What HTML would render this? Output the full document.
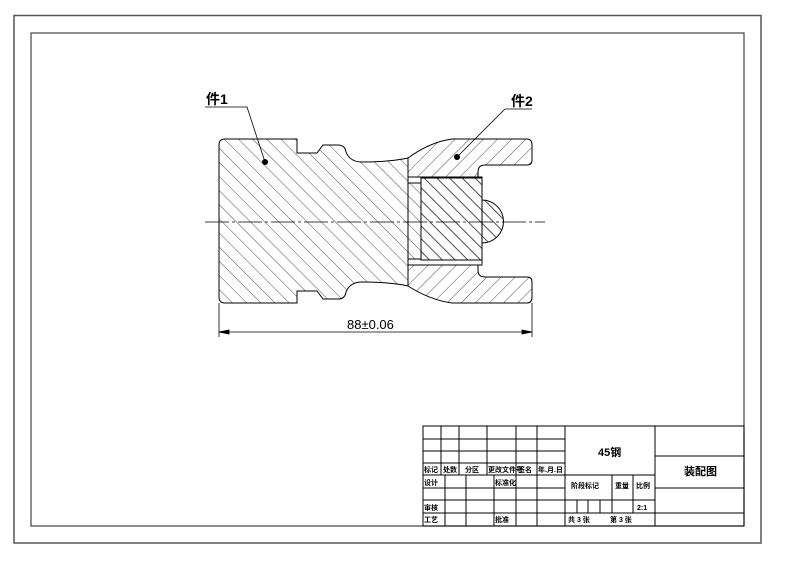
<!DOCTYPE html>
<html><head><meta charset="utf-8"><style>
html,body{margin:0;padding:0;background:#fff;}
svg{display:block}
text{font-family:"Liberation Sans","Noto Sans CJK SC",sans-serif;font-weight:bold;fill:#000}
</style></head><body>
<svg width="803" height="574" viewBox="0 0 803 574" xmlns="http://www.w3.org/2000/svg">
<defs>
<pattern id="hA" patternUnits="userSpaceOnUse" width="10" height="10" patternTransform="rotate(-45)">
<line x1="0" y1="0" x2="0" y2="10" stroke="#222" stroke-width="0.8"/></pattern>
<pattern id="hB" patternUnits="userSpaceOnUse" width="10" height="10" patternTransform="rotate(45)">
<line x1="0" y1="0" x2="0" y2="10" stroke="#222" stroke-width="0.8"/></pattern>
<pattern id="hC" patternUnits="userSpaceOnUse" width="9" height="9" patternTransform="rotate(-45)">
<line x1="3" y1="0" x2="3" y2="9" stroke="#222" stroke-width="0.8"/></pattern>
</defs>
<rect x="14" y="15.5" width="747" height="527.5" fill="none" stroke="#555" stroke-width="1.5"/>
<rect x="31" y="33" width="713" height="493" fill="none" stroke="#444" stroke-width="1.2"/>

<g stroke="#000" stroke-width="1">
<path d="M219,145 Q219,139 225,139 L297,139 L297,153 L317,153 L323,145 L338,145 Q345,145 346,152 Q350,162 362,162 Q390,162 408,158 L408,286 Q390,282 362,282 Q350,282 346,292 Q345,299 338,299 L323,299 L317,291 L297,291 L297,303 L225,303 Q219,303 219,297 Z" fill="url(#hA)"/>
<path d="M408,158 Q430,142 452,139 L527,139 Q532,139 532,145 L532,160 Q532,165 527,165 L485,165 Q478,165 478,172 L478,177 L408,177 Z" fill="url(#hB)"/>
<path d="M408,286 Q430,300 452,303 L527,303 Q532,303 532,297 L532,282 Q532,277 527,277 L485,277 Q478,277 478,270 L478,265 L408,265 Z" fill="url(#hB)"/>
<rect x="408" y="177" width="74" height="88" fill="#fff"/>
<rect x="408" y="183" width="13" height="76" fill="url(#hA)"/>
<rect x="421" y="178" width="61" height="82" fill="url(#hC)"/>
<path d="M482,200 A21,21 0 0 1 482,243 Z" fill="url(#hC)"/>
<line x1="408" y1="183" x2="421" y2="183"/>
<line x1="408" y1="259" x2="421" y2="259"/>
</g>
<line x1="205" y1="222" x2="545" y2="222" stroke="#000" stroke-width="0.8" stroke-dasharray="24,3,3,3"/>
<g stroke="#000" stroke-width="0.8">
<line x1="219" y1="303" x2="219" y2="337"/>
<line x1="532" y1="303" x2="532" y2="337"/>
<line x1="219" y1="332" x2="532" y2="332"/>
<path d="M219,332 l10,-2 v4 Z M532,332 l-10,-2 v4 Z" fill="#000"/>
</g>
<text x="347" y="329" font-size="13" font-family="Liberation Mono" style="font-weight:normal">88±0.06</text>
<g stroke="#000" stroke-width="0.8" fill="none">
<path d="M205,107 L247,107 L265,162"/>
<path d="M505,109 L532,109 M505,109 L457,157"/>
</g>
<circle cx="265" cy="162" r="3" fill="#000"/>
<circle cx="457" cy="157" r="3" fill="#000"/>
<text x="206" y="104" font-size="14">件1</text>
<text x="511" y="106" font-size="14">件2</text>

<g stroke="#000" stroke-width="1" fill="none">
<rect x="423" y="426" width="321" height="100"/>
<line x1="423" y1="439" x2="565" y2="439"/>
<line x1="423" y1="451" x2="565" y2="451"/>
<line x1="423" y1="463" x2="565" y2="463"/>
<line x1="423" y1="475" x2="655" y2="475"/>
<line x1="423" y1="488" x2="565" y2="488"/>
<line x1="423" y1="500" x2="565" y2="500"/>
<line x1="423" y1="513" x2="565" y2="513"/>
<line x1="441" y1="426" x2="441" y2="475"/>
<line x1="459" y1="426" x2="459" y2="475"/>
<line x1="487" y1="426" x2="487" y2="475"/>
<line x1="516" y1="426" x2="516" y2="526"/>
<line x1="537" y1="426" x2="537" y2="526"/>
<line x1="565" y1="426" x2="565" y2="526"/>
<line x1="445" y1="475" x2="445" y2="526"/>
<line x1="466" y1="475" x2="466" y2="526"/>
<line x1="494" y1="475" x2="494" y2="526"/>
<line x1="655" y1="426" x2="655" y2="526"/>
<line x1="565" y1="500" x2="655" y2="500"/>
<line x1="565" y1="513" x2="744" y2="513"/>
<line x1="612" y1="475" x2="612" y2="513"/>
<line x1="633" y1="475" x2="633" y2="513"/>
<line x1="577" y1="500" x2="577" y2="513"/>
<line x1="588" y1="500" x2="588" y2="513"/>
<line x1="600" y1="500" x2="600" y2="513"/>
<line x1="655" y1="456" x2="744" y2="456"/>
<line x1="655" y1="488" x2="744" y2="488"/>
</g>
<g font-size="7">
<text x="424" y="472">标记</text><text x="443" y="472">处数</text><text x="465" y="472">分区</text>
<text x="488" y="472">更改文件号</text><text x="518" y="472">签名</text><text x="538" y="472">年.月.日</text>
<text x="424" y="485">设计</text><text x="495" y="485">标准化</text>
<text x="424" y="510">审核</text><text x="424" y="522">工艺</text><text x="495" y="522">批准</text>
<text x="571" y="488">阶段标记</text><text x="615" y="488">重量</text><text x="636" y="488">比例</text>
<text x="637" y="510">2:1</text>
<text x="568" y="522">共 3 张</text><text x="610" y="522">第 3 张</text>
</g>
<text x="598" y="456" font-size="11">45钢</text>
<text x="684" y="475" font-size="11">装配图</text>
</svg>
</body></html>
